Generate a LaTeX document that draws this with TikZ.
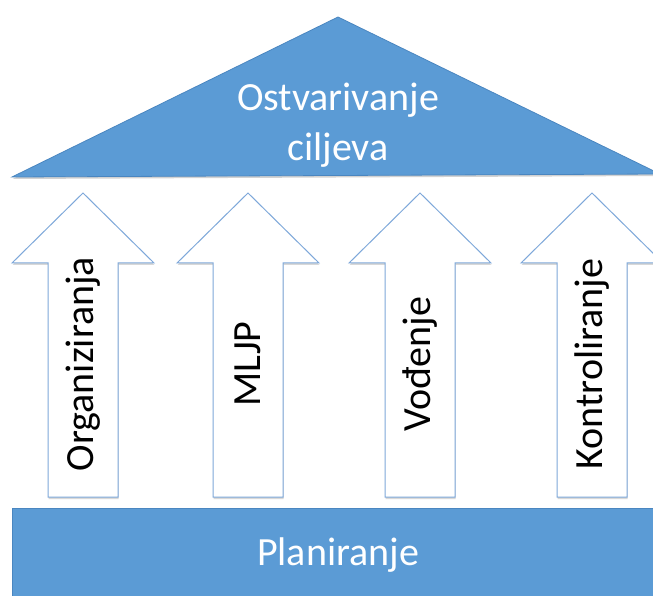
\documentclass[tikz,border=0pt]{standalone}
\usepackage{fontspec}
\setmainfont{Carlito}
\usetikzlibrary{shadows}
\definecolor{roofblue}{HTML}{5B9BD5}
\definecolor{edgeblue}{HTML}{4A86C0}
\definecolor{arrowline}{HTML}{7EA8DA}
\begin{document}
\begin{tikzpicture}[x=1pt,y=1pt,
  blockshape/.style={fill=roofblue,draw=edgeblue,line width=0.8pt,drop shadow={shadow xshift=0.5pt,shadow yshift=-2pt,opacity=0.35}},
  arrowshape/.style={fill=white,draw=arrowline,line width=1pt,drop shadow={shadow xshift=0.5pt,shadow yshift=-2pt,opacity=0.3}},
  bigtext/.style={text=white,font=\fontsize{40}{50}\selectfont,align=center},
  pillartext/.style={text=black,font=\fontsize{40}{50}\selectfont,rotate=90}]
\clip (0,0) rectangle (653,595);
\fill[white] (0,0) rectangle (653,595);
% roof
\draw[blockshape] (12,418) -- (338,578) -- (660,421) -- cycle;
\node[bigtext] (goal) at (338,470) {Ostvarivanje\\ciljeva};
% pillars
\foreach \cx/\lbl/\nm in {83/Organiziranja/org,248/MLJP/mljp,420/Vođenje/vod,592/Kontroliranje/kon}
{
  \draw[arrowshape] (\cx-35,98) -- (\cx-35,332) -- (\cx-71,332) -- (\cx,402) -- (\cx+71,332) -- (\cx+35,332) -- (\cx+35,98) -- cycle;
  \node[pillartext] (\nm) at (\cx,231) {\lbl};
}
% base
\draw[blockshape] (12,-10) rectangle (665,87);
\node[bigtext] (plan) at (338,40) {Planiranje};
\end{tikzpicture}
\end{document}
